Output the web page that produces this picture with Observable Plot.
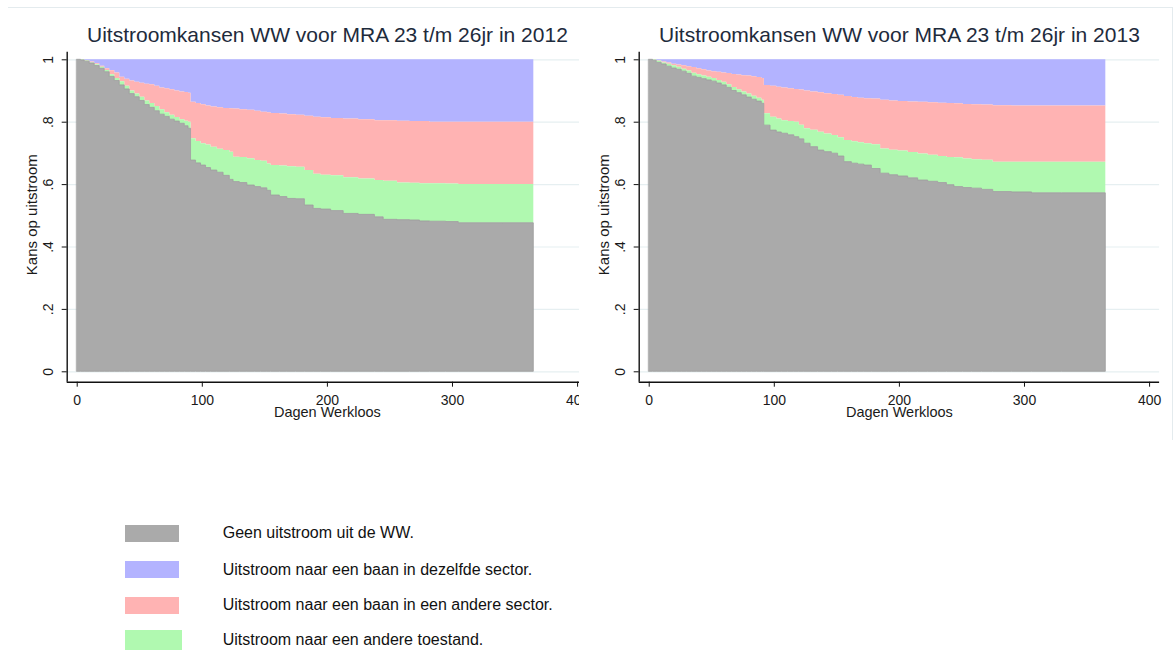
<!DOCTYPE html>
<html>
<head>
<meta charset="utf-8">
<script src="https://cdn.jsdelivr.net/npm/d3@7"></script>
<script src="https://cdn.jsdelivr.net/npm/@observablehq/plot@0.6"></script>
<style>
  html, body { margin: 0; padding: 0; background: #fff; }
  body { width: 1175px; height: 651px; position: relative; overflow: hidden; font-family: "Liberation Sans", Arial, sans-serif; }
  #left { position: absolute; left: 0; top: 0; width: 579px; height: 430px; overflow: hidden; }
  #right { position: absolute; left: 571.6px; top: 0; width: 600px; height: 430px; }
  #left svg, #right svg { max-width: none !important; width: 600px; height: 430px; }
  #topline { position: absolute; left: 8px; top: 7px; width: 1165px; height: 1px; background: #e4ebee; }
  #rightline { position: absolute; left: 1172px; top: 7px; width: 1px; height: 433px; background: #e4ebee; }
  .lg-row { position: absolute; left: 125px; display: flex; align-items: center; }
  .lg-sw { flex: none; }
  .lg-tx { position: absolute; left: 97.7px; white-space: nowrap; font-size: 16px; color: #111; }
</style>
</head>
<body>
<div id="topline"></div>
<div id="rightline"></div>
<div id="left"></div>
<div id="right"></div>
<div id="legend"></div>
<script>
// ---- data ----
const categories = [
  "Geen uitstroom uit de WW.",
  "Uitstroom naar een baan in dezelfde sector.",
  "Uitstroom naar een baan in een andere sector.",
  "Uitstroom naar een andere toestand."
];
const colors = ["#aaaaaa", "#b3b3ff", "#ffb3b3", "#b0f9b0"];
const titles = ["Uitstroomkansen WW voor MRA 23 t/m 26jr in 2012", "Uitstroomkansen WW voor MRA 23 t/m 26jr in 2013"];
const xTicks = [0, 100, 200, 300, 400];
const yTicks = [0, 0.2, 0.4, 0.6, 0.8, 1];
const yTickLabels = ["0", ".2", ".4", ".6", ".8", "1"];

// 2012: cumulative levels (top of grey, top of green, top of red)
const days2012 = [0,3,6,10,14,18,22,26,30,34,38,42,46,50,54,58,62,66,70,74,78,82,86,89,91,95,99,103,107,112,117,122,125,130,136,142,147,152,155,162,168,175,182,189,195,203,213,225,238,245,256,266,274,282,295,305,320,340,365];
const geen2012 = [1,.998,.994,.988,.98,.971,.96,.945,.932,.918,.905,.89,.88,.868,.855,.846,.835,.824,.817,.808,.802,.795,.787,.779,.677,.668,.661,.653,.645,.638,.628,.615,.608,.605,.597,.592,.588,.58,.565,.56,.554,.553,.533,.522,.52,.515,.506,.503,.495,.487,.486,.485,.482,.481,.48,.476,.476,.476,.476];
const toestand2012 = [1,.999,.996,.99,.984,.976,.966,.952,.94,.93,.915,.9,.89,.88,.868,.86,.85,.84,.83,.822,.815,.808,.803,.80,.747,.738,.731,.727,.72,.713,.709,.704,.688,.687,.683,.677,.675,.666,.661,.66,.657,.656,.645,.633,.63,.628,.622,.618,.613,.611,.605,.604,.603,.603,.602,.60,.60,.60,.60];
const sector2012 = [1,1,.998,.993,.987,.979,.971,.965,.958,.944,.938,.932,.928,.925,.922,.92,.915,.91,.907,.904,.9,.897,.895,.893,.864,.86,.856,.852,.849,.846,.844,.843,.842,.84,.838,.835,.832,.83,.828,.826,.824,.822,.819,.816,.814,.812,.81,.808,.805,.805,.803,.802,.802,.80,.80,.80,.80,.80,.80];

// 2013
const days2013 = [0,3,6,10,14,18,22,26,30,34,38,42,46,50,54,58,62,66,70,74,78,82,86,90,92,97,102,106,111,116,120,124,129,135,140,146,151,156,162,167,172,178,185,192,199,207,215,223,231,238,244,251,258,266,275,290,306,330,365];
const geen2013 = [1,.997,.99,.985,.978,.972,.968,.962,.955,.946,.942,.938,.934,.93,.924,.918,.91,.9,.893,.886,.879,.872,.866,.859,.789,.773,.767,.763,.758,.752,.745,.731,.72,.709,.704,.699,.69,.672,.667,.664,.661,.65,.635,.63,.626,.62,.613,.609,.605,.598,.592,.589,.587,.583,.576,.575,.572,.572,.572];
const toestand2013 = [1,.999,.995,.99,.986,.981,.976,.97,.964,.957,.952,.948,.944,.94,.934,.928,.92,.911,.904,.897,.89,.883,.877,.87,.827,.816,.81,.805,.802,.80,.79,.779,.774,.768,.762,.757,.75,.741,.737,.734,.731,.728,.714,.71,.708,.703,.698,.694,.69,.687,.686,.682,.68,.678,.672,.672,.672,.672,.672];
const sector2013 = [1,1,.997,.993,.99,.986,.983,.981,.978,.975,.971,.968,.964,.962,.96,.958,.956,.953,.951,.949,.948,.946,.943,.94,.918,.915,.912,.91,.907,.905,.903,.90,.897,.894,.891,.889,.886,.882,.879,.877,.875,.874,.87,.868,.866,.865,.864,.862,.861,.86,.859,.857,.856,.855,.853,.852,.852,.852,.852];

// ---- chart ----
const xLo = -8, xHi = 408;           // axis extends a little beyond the data range
const yLo = -10.4 / 312, yHi = 1 + 7.6 / 312;
const FONT = "'Liberation Sans', Arial, Helvetica, sans-serif";

function chart(days, geen, toestand, sector, title) {
  const rows = days.map((d, i) => ({day: d, geen: geen[i], toestand: toestand[i], sector: sector[i]}));
  return Plot.plot({
    width: 600, height: 430,
    marginLeft: 66.7, marginRight: 12.9, marginTop: 51.7, marginBottom: 48.3,
    style: {background: "transparent", fontFamily: FONT, color: "#1a1a1a", overflow: "visible", maxWidth: "none"},
    x: {domain: [xLo, xHi]},
    y: {domain: [yLo, yHi]},
    marks: [
      Plot.ruleY(yTicks, {stroke: "#e6eff1", strokeWidth: 1.2}),
      Plot.areaY(rows, {x: "day", y1: "sector", y2: () => 1, curve: "step-after", fill: colors[1]}),
      Plot.areaY(rows, {x: "day", y1: "toestand", y2: "sector", curve: "step-after", fill: colors[2]}),
      Plot.areaY(rows, {x: "day", y1: "geen", y2: "toestand", curve: "step-after", fill: colors[3]}),
      Plot.areaY(rows, {x: "day", y1: () => 0, y2: "geen", curve: "step-after", fill: colors[0], stroke: "#9c9c9c", strokeWidth: 0.8}),
      Plot.ruleX([xLo], {stroke: "#111", strokeWidth: 1.4}),
      Plot.ruleY([yLo], {stroke: "#111", strokeWidth: 1.4}),
      Plot.axisX(xTicks, {tickSize: 5, tickPadding: 7.5, fontSize: 14, label: null, stroke: "#111", fill: "#1a1a1a"}),
      Plot.axisY(yTicks, {tickSize: 5, tickFormat: () => "", label: null, stroke: "#111"}),
      Plot.text(yTicks, {y: d => d, text: (d, i) => yTickLabels[i], frameAnchor: "left", textAnchor: "middle", lineAnchor: "middle", dx: -19, rotate: -90, fontSize: 14, fill: "#1a1a1a"}),
      Plot.text(["Kans op uitstroom"], {text: d => d, frameAnchor: "left", textAnchor: "middle", lineAnchor: "middle", dx: -35, dy: -2.5, rotate: -90, fontSize: 15, fill: "#1a1a1a"}),
      Plot.text(["Dagen Werkloos"], {text: d => d, frameAnchor: "bottom", lineAnchor: "middle", dy: 30, fontSize: 14.5, fill: "#1a1a1a"}),
      Plot.text([title], {text: d => d, frameAnchor: "top", lineAnchor: "middle", dy: -16.7, fontSize: 21, fill: "#1e2b3c"})
    ]
  });
}

document.getElementById("left").append(chart(days2012, geen2012, toestand2012, sector2012, titles[0]));
document.getElementById("right").append(chart(days2013, geen2013, toestand2013, sector2013, titles[1]));

// ---- legend ----
const legendOrder = [0, 1, 2, 3];
const legendCenters = [533.3, 569.5, 605.2, 640.3];
const swatchSizes = [[54, 17], [54, 17], [54, 17], [57, 20]];
const legend = document.getElementById("legend");
legendOrder.forEach((k, i) => {
  const row = document.createElement("div");
  row.className = "lg-row";
  const [w, h] = swatchSizes[i];
  row.style.top = (legendCenters[i] - h / 2) + "px";
  row.style.height = h + "px";
  const sw = document.createElement("div");
  sw.className = "lg-sw";
  sw.style.width = w + "px";
  sw.style.height = h + "px";
  sw.style.background = colors[k];
  const tx = document.createElement("div");
  tx.className = "lg-tx";
  tx.textContent = categories[k];
  row.append(sw, tx);
  legend.append(row);
});
</script>
</body>
</html>
